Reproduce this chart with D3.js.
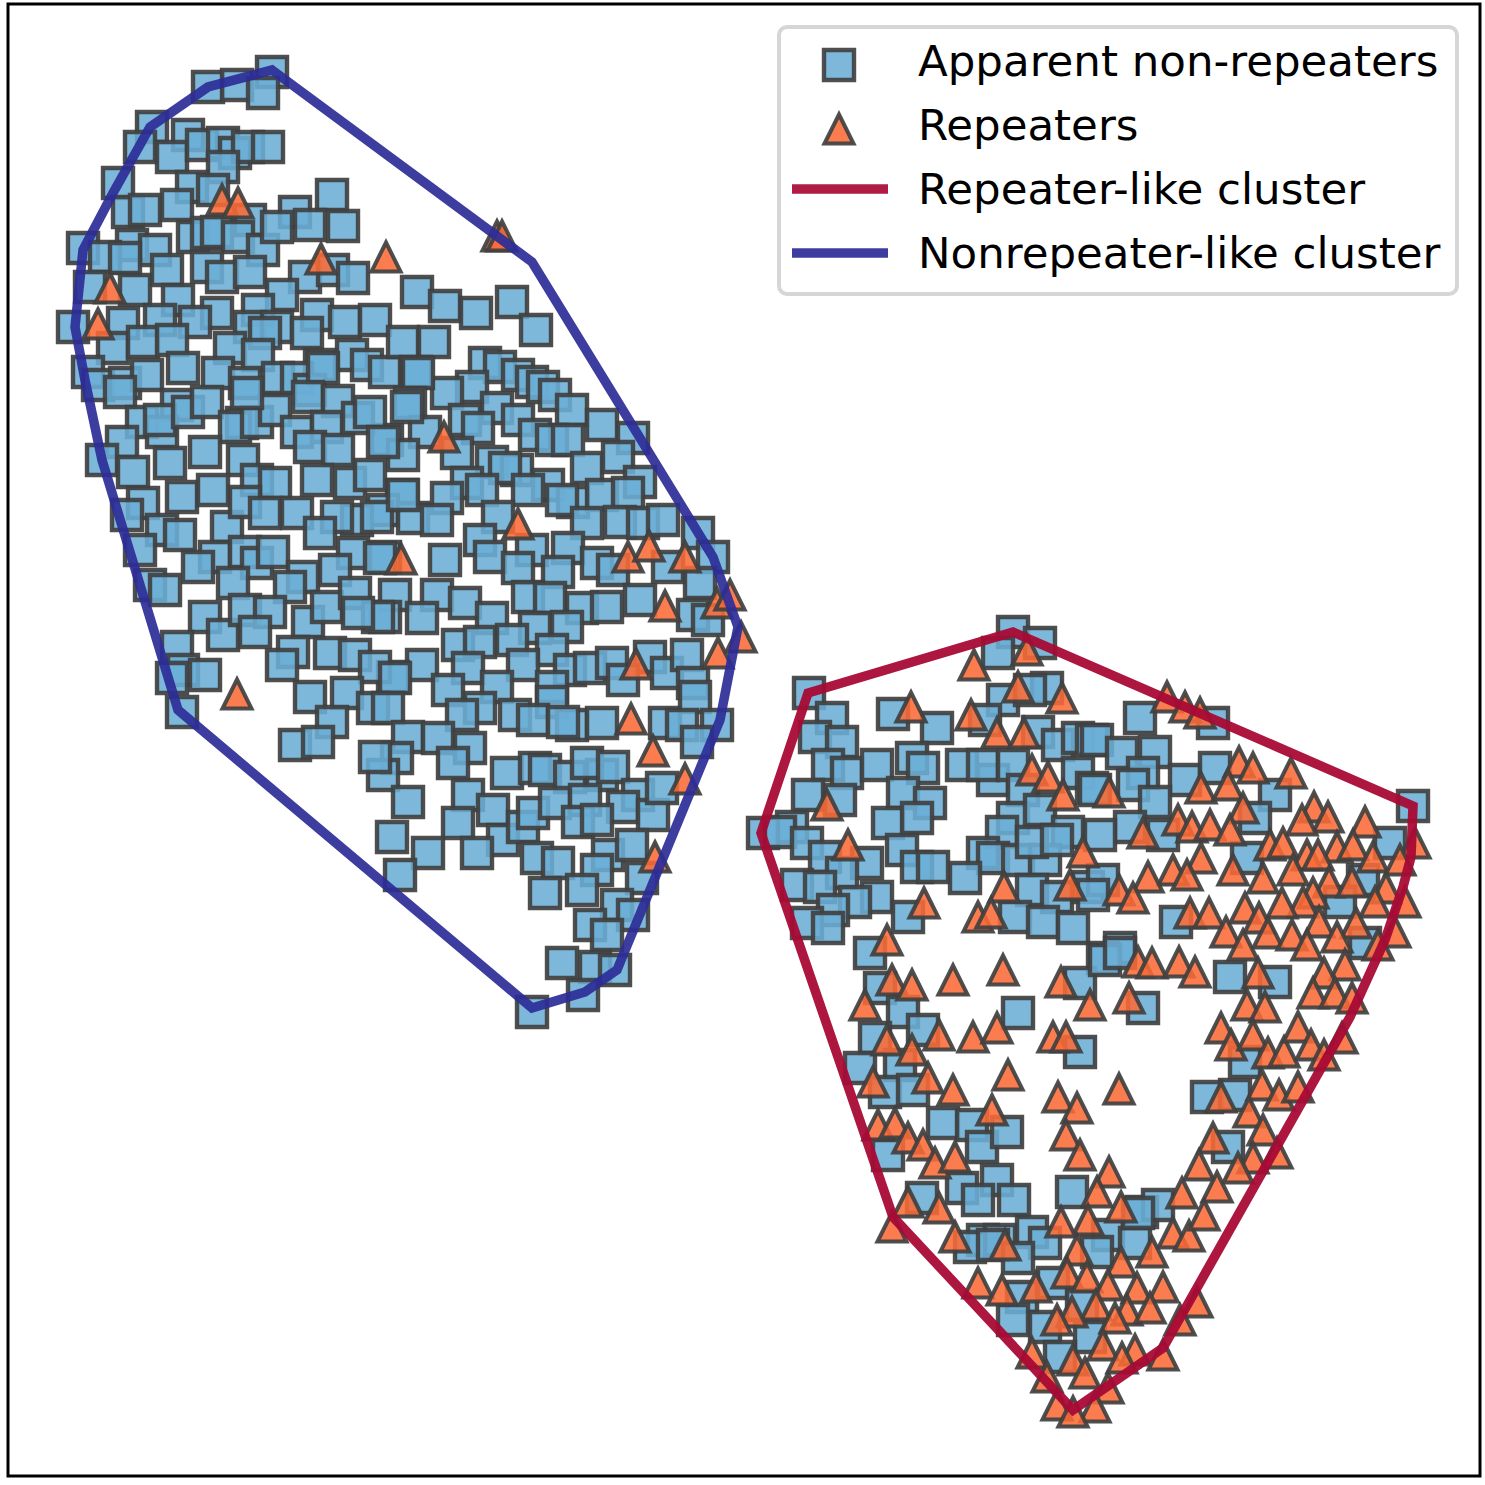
<!DOCTYPE html>
<html>
<head>
<meta charset="utf-8">
<script src="https://cdn.jsdelivr.net/npm/d3@7"></script>
<style>
html, body { margin: 0; padding: 0; background: #fff; }
svg { display: block; }
</style>
</head>
<body>
<div id="chart"></div>
<script>
// values, in the plot's own units
var nonRepeaters = [
[272,72],[208,87],[237,85],[263,93],[152,127],[140,147],[188,135],[172,157],[202,145],[223,143],[235,153],[248,147],[268,147],[223,167],
[118,183],[192,187],[213,190],[128,212],[145,210],[177,205],[250,220],[332,195],[295,212],[310,225],[343,226],[193,237],[207,233],[217,232],
[238,237],[263,250],[277,227],[132,245],[155,250],[83,248],[105,257],[125,258],[167,270],[207,267],[222,277],[250,272],[305,277],[333,270],
[353,278],[282,295],[90,287],[135,290],[178,300],[217,313],[258,310],[317,315],[345,322],[375,320],[73,327],[123,323],[160,320],[195,322],
[250,327],[277,327],[307,333],[265,333],[113,348],[143,342],[172,340],[230,348],[258,355],[352,355],[367,365],[385,372],[320,365],[88,372],[98,385],
[125,383],[147,375],[183,368],[218,373],[245,383],[278,378],[297,378],[310,390],[323,368],[120,392],
[417,292],[445,306],[476,313],[512,302],[536,330],[403,342],[434,342],[416,372],
[485,363],[500,367],[518,375],[532,382],[543,387],[555,395],[572,410],[602,425],[633,438],[472,387],[447,393],[418,373],[410,403],[497,408],
[518,420],[535,435],[552,440],[568,440],[465,420],[478,428],[425,432],[387,440],[403,455],[457,453],[492,462],[517,470],[505,468],[587,468],
[618,457],[640,482],[548,485],[573,502],[562,500],[602,495],[628,493],[528,490],[467,483],[482,490],[447,498],[402,495],[383,510],[413,518],
[437,520],[498,517],[587,523],[620,522],[643,523],[663,520],[698,533],[713,557],[480,540],[490,557],[532,550],[568,548],[445,560],[518,568],
[558,572],[597,563],[613,570],[668,567],[700,583],[385,557],[395,595],[437,595],[465,603],[422,618],[385,617],[528,597],[550,598],[582,608],
[607,607],[640,600],[693,615],[708,620],[492,618],[535,628],[567,627],[458,645],[480,642],[512,640],[552,650],[422,665],[468,668],[523,665],
[393,677],[497,687],[570,670],[590,668],[612,663],[650,657],[667,673],[687,655],[693,683],[623,680],[552,687],
[177,405],[142,422],[162,432],[160,420],[188,412],[207,402],[242,423],[235,427],[257,422],[275,410],[247,393],[308,397],[297,432],[338,401],[327,427],
[358,418],[370,412],[407,407],[122,442],[102,460],[133,472],[205,452],[170,463],[243,460],[310,447],[338,450],[383,442],[257,480],[275,483],[317,480],
[350,483],[370,475],[182,497],[213,490],[143,503],[127,515],[162,530],[180,535],[140,550],[227,527],[245,502],[265,513],[297,513],[357,520],
[337,517],[377,517],[403,495],[320,533],[353,553],[380,558],[215,557],[198,567],[245,552],[257,563],[273,552],[303,577],[335,570],[233,583],
[290,587],[150,585],[165,590],[205,617],[223,635],[245,610],[270,612],[255,632],[308,622],[327,607],[355,593],[378,617],[358,613],[177,647],
[183,670],[172,678],[205,675],[293,652],[282,665],[330,653],[355,655],[375,667],[395,678],[310,697],[347,693],[182,712],[373,708],[388,708],[332,722],
[295,745],[318,742],
[448,690],[480,708],[462,715],[515,715],[552,702],[533,720],[572,725],[602,723],[563,722],[665,723],[695,697],[682,725],[717,725],[697,742],
[408,737],[438,738],[470,748],[397,758],[453,763],[383,775],[375,757],[507,773],[535,768],[545,770],[570,777],[602,775],[587,763],[613,767],
[468,795],[408,802],[493,810],[458,823],[503,840],[523,827],[533,813],[555,803],[585,800],[638,795],[623,807],[653,815],[662,788],[578,822],
[597,820],[392,837],[428,853],[477,853],[537,858],[558,863],[608,855],[632,845],[642,878],[597,870],[400,875],[545,893],[582,890],[617,905],
[633,915],[590,925],[607,935],[562,963],[595,967],[615,970],[583,995],[532,1012],
[1013,632],[1040,643],[998,653],[809,693],[1003,700],[1047,688],[1030,690],[832,718],[893,714],[937,728],[815,737],[842,742],[985,720],[1038,732],
[1058,745],[1078,738],[1092,740],[828,765],[847,773],[877,765],[912,758],[923,768],[962,765],[993,780],[983,765],[1013,765],[808,795],[840,800],
[903,793],[930,803],[1023,790],[1078,773],[1092,788],[1013,818],[1040,810],[792,827],[763,833],[780,832],[888,823],[917,818],[1002,832],[1068,832],
[807,843],[825,857],[983,853],[993,858],[1018,860],[1045,860],[1032,842],[1057,840],[902,850],[917,867],[933,867],[867,863],[965,878],[797,885],
[842,873],[820,887],[877,897],[855,902],[1032,890],[1057,897],[1088,887],[908,917],[833,910],[807,923],[828,928],[1015,917],[1043,922],[1073,928],[870,953],
[1140,718],[1213,723],[1097,740],[1122,753],[1155,752],[1143,773],[1185,780],[1215,768],[1133,785],[1155,802],[1275,795],[1413,806],[1255,818],
[1130,827],[1100,835],[1163,835],[1095,790],[1390,843],[1247,858],[1103,880],[1093,895],[1363,880],[1340,902],[1176,922],[1120,948],[1103,958],
[1365,943],[1230,977],[1275,982],[1143,1008],
[880,988],[903,1012],[923,1030],[875,1038],[1018,1013],[1080,983],[1080,1052],[900,1065],[860,1068],[885,1092],[913,1090],[943,1123],[972,1125],
[982,1147],[1007,1132],[888,1155],[962,1188],[997,1180],[978,1200],[1014,1200],[922,1198],[1072,1192],[1032,1232],[1045,1243],[1108,1235],[1142,1212],
[1158,1205],[1135,1243],[983,1240],[1000,1240],[1105,960],[1120,953],
[1138,1213],[970,1247],[993,1245],[1097,1252],[1018,1258],[1053,1283],[1022,1297],[1013,1320],[1045,1327],[1082,1305],[1090,1337],[1060,1357],
[1207,1097],[1235,1095],[1245,1062],[1228,1147]
];

var repeaters = [
[222,200],[238,203],[110,288],[98,324],[321,259],[386,257],[497,236],[502,236],[444,437],[518,524],[401,559],[628,557],[649,546],[685,557],
[665,606],[717,603],[730,595],[741,637],[718,653],[636,664],[237,694],[631,719],[653,751],[685,779],[655,857],
[974,665],[1027,650],[1018,687],[1062,698],[911,707],[971,715],[997,733],[1024,733],[1032,770],[1048,777],[1063,795],[827,805],[848,845],[1083,852],
[1004,887],[1070,885],[924,903],[978,917],[991,913],[887,940],
[1167,697],[1185,707],[1200,713],[1239,762],[1253,768],[1291,773],[1109,792],[1201,788],[1228,785],[1243,808],[1314,807],[1328,817],[1302,820],[1365,822],
[1178,820],[1192,827],[1210,825],[1230,830],[1143,833],[1415,843],[1270,845],[1283,843],[1337,847],[1353,845],[1307,855],[1318,855],[1373,857],[1400,860],
[1201,858],[1173,870],[1187,875],[1233,870],[1148,877],[1263,878],[1293,870],[1329,882],[1352,882],[1386,888],[1119,890],[1133,898],[1313,893],[1303,902],
[1282,903],[1245,908],[1375,902],[1405,902],[1190,913],[1209,913],[1259,918],[1319,922],[1356,923],[1395,932],[1226,932],[1268,933],[1292,935],[1337,937],
[1307,945],[1378,945],[1243,945],[1138,962],[1152,963],[1179,962],[1195,972],[1258,973],[1345,965],[1324,973],[1129,998],[1313,993],[1335,993],[1352,998],
[1247,1005],[1265,1007],
[1221,1028],[1231,1045],[1253,1035],[1268,1053],[1284,1052],[1298,1027],[1311,1045],[1324,1055],[1342,1038],[1262,1085],[1279,1095],[1298,1087],[1221,1097],
[1249,1112],[1263,1130],[1213,1138],[1277,1153],[1253,1158],[1238,1168],[1199,1165],
[953,980],[1003,970],[892,980],[912,985],[865,1005],[1061,982],[1090,1005],[939,1035],[973,1037],[997,1028],[887,1040],[912,1050],[1053,1037],[1066,1037],
[1008,1075],[1119,1089],[1058,1097],[1077,1108],[873,1082],[928,1078],[953,1090],[992,1110],[1066,1135],[1080,1155],[878,1125],[895,1123],[908,1138],[923,1145],
[935,1163],[955,1157],[1109,1172],[908,1202],[939,1208],[892,1227],[955,1237],[1097,1192],[1121,1207],[1088,1220],[1061,1222],[1005,1245],[1182,1193],[1173,1233],
[1189,1236],[1077,1250],[1152,1252],[1217,1187],[1204,1215],
[1121,1262],[1067,1273],[1087,1277],[978,1283],[1002,1290],[1036,1287],[1108,1285],[1137,1288],[1163,1287],[1096,1305],[1072,1312],[1127,1310],[1150,1308],
[1197,1302],[1057,1320],[1115,1318],[1180,1320],[1103,1345],[1032,1353],[1073,1360],[1135,1350],[1122,1358],[1163,1355],[1047,1377],[1085,1373],[1108,1388],
[1057,1405],[1095,1407],[1073,1412]
];

var repeaterHull = [[1013,632],[1413,806],[1411,857],[1403,887],[1385,940],[1350,1017],[1163,1348],[1073,1410],[893,1217],[761,833],[808,693]];
var nonrepeaterHull = [[272,70],[532,262],[713,557],[738,627],[720,720],[617,970],[585,992],[532,1008],[178,710],[102,460],[85,380],[75,327],[83,250],[113,193],[150,127],[208,87]];

var legendLabels = ["Apparent non-repeaters", "Repeaters", "Repeater-like cluster", "Nonrepeater-like cluster"];

var W = 1485, H = 1485;
var squareColor = "#6baed6", triangleColor = "#fb6a35", edgeColor = "#404040";
var hullRed = "#a80a35", hullBlue = "#2c2c98";

var x = d3.scaleLinear().domain([8, 1480]).range([8, 1480]);
var y = d3.scaleLinear().domain([4, 1476]).range([4, 1476]);

var svg = d3.select("#chart").append("svg")
    .attr("width", W)
    .attr("height", H);

// marker shapes, same bbox centring as matplotlib's "s" and "^"
var squareShape = {
    draw: function(ctx, size) {
        var r = Math.sqrt(size) / 2;
        ctx.rect(-r, -r, r * 2, r * 2);
    }
};
var triangleShape = {
    draw: function(ctx, size) {
        var r = Math.sqrt(size) / 2;
        ctx.moveTo(0, -r);
        ctx.lineTo(r, r);
        ctx.lineTo(-r, r);
        ctx.closePath();
    }
};
var squarePath = d3.symbol().type(squareShape).size(30 * 30)();
var trianglePath = d3.symbol().type(triangleShape).size(29 * 29)();

function markerStyle(sel, fill, strokeWidth) {
    sel.attr("fill", fill)
        .attr("fill-opacity", 0.88)
        .attr("stroke", edgeColor)
        .attr("stroke-opacity", 0.92)
        .attr("stroke-width", strokeWidth)
        .attr("stroke-linejoin", "miter");
}

svg.append("g").selectAll("path")
    .data(nonRepeaters)
    .enter().append("path")
    .attr("d", squarePath)
    .attr("transform", function(d) { return "translate(" + x(d[0]) + "," + y(d[1]) + ")"; })
    .call(markerStyle, squareColor, 4.4);

svg.append("g").selectAll("path")
    .data(repeaters)
    .enter().append("path")
    .attr("d", trianglePath)
    .attr("transform", function(d) { return "translate(" + x(d[0]) + "," + y(d[1]) + ")"; })
    .call(markerStyle, triangleColor, 4);

var hullLine = d3.line()
    .x(function(d) { return x(d[0]); })
    .y(function(d) { return y(d[1]); })
    .curve(d3.curveLinearClosed);

svg.append("path")
    .attr("d", hullLine(repeaterHull))
    .attr("fill", "none")
    .attr("stroke", hullRed)
    .attr("stroke-opacity", 0.95)
    .attr("stroke-width", 9.5);

svg.append("path")
    .attr("d", hullLine(nonrepeaterHull))
    .attr("fill", "none")
    .attr("stroke", hullBlue)
    .attr("stroke-opacity", 0.92)
    .attr("stroke-width", 9.5);

// frame
svg.append("rect")
    .attr("x", x(8))
    .attr("y", y(4))
    .attr("width", x(1480) - x(8))
    .attr("height", y(1476) - y(4))
    .attr("fill", "none")
    .attr("stroke", "#000")
    .attr("stroke-width", 3);

// legend
var legend = svg.append("g");
legend.append("rect")
    .attr("x", 779)
    .attr("y", 27)
    .attr("width", 678)
    .attr("height", 267)
    .attr("rx", 8)
    .attr("fill", "#fff")
    .attr("fill-opacity", 0.8)
    .attr("stroke", "#d6d6d6")
    .attr("stroke-width", 4);

var rowY = d3.scalePoint().domain(legendLabels).range([61, 253]);

legend.selectAll("text")
    .data(legendLabels)
    .enter().append("text")
    .attr("x", 918)
    .attr("y", function(d) { return rowY(d) + 15; })
    .attr("font-family", "'DejaVu Sans', sans-serif")
    .attr("font-size", 43.5)
    .attr("fill", "#000")
    .text(function(d) { return d; });

legend.append("path")
    .attr("d", squarePath)
    .attr("transform", "translate(839," + (rowY(legendLabels[0]) + 4) + ")")
    .call(markerStyle, squareColor, 4.4);
legend.append("path")
    .attr("d", trianglePath)
    .attr("transform", "translate(839," + (rowY(legendLabels[1]) + 4) + ")")
    .call(markerStyle, triangleColor, 4);

[[legendLabels[2], hullRed], [legendLabels[3], hullBlue]].forEach(function(row) {
    legend.append("line")
        .attr("x1", 792)
        .attr("x2", 888)
        .attr("y1", rowY(row[0]))
        .attr("y2", rowY(row[0]))
        .attr("stroke", row[1])
        .attr("stroke-opacity", 0.92)
        .attr("stroke-width", 9.5);
});
</script>
</body>
</html>
